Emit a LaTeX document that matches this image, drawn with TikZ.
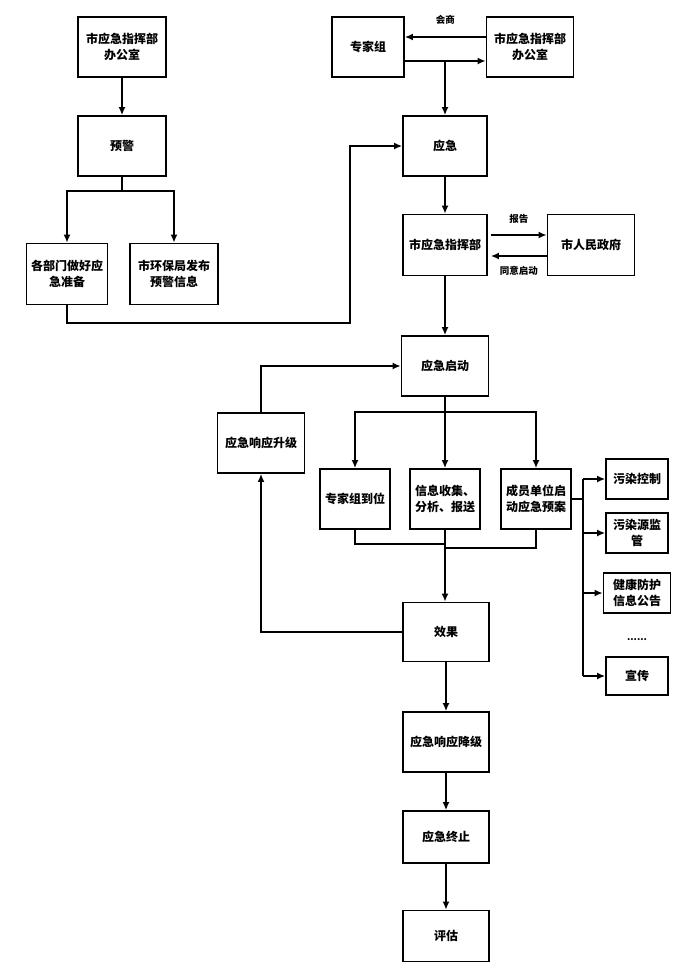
\documentclass[tikz,border=0pt]{standalone}
\usepackage{fontspec}
\setmainfont{Noto Sans CJK SC}
\usetikzlibrary{arrows.meta,positioning}
\tikzstyle{box} = [rectangle, draw, line width=1.7pt, minimum width=86pt, minimum height=60pt, inner sep=2pt, align=center, font=\bfseries\fontsize{12}{16}\selectfont]
\tikzstyle{small} = [box, minimum width=62pt, minimum height=40pt]
\tikzstyle{lbl} = [font=\bfseries\fontsize{9.5}{11}\selectfont]
\tikzstyle{arrow} = [line width=1.7pt,->,>={Latex[length=8pt,width=7pt]}]
\tikzstyle{line} = [line width=1.7pt]

\begin{document}
\begin{tikzpicture}[x=1pt, y=-1pt]
    \useasboundingbox (0,0) rectangle (700,970);

    % Warning branch
    \node[box, minimum width=88pt] (office1) at (122,47) {市应急指挥部\\办公室};
    \node[box, minimum width=88pt] (yujing) at (122,146) {预警};
    \node[box, minimum width=81pt, minimum height=61pt] (gebumen) at (67,274) {各部门做好应\\急准备};
    \node[box, minimum width=88pt, minimum height=61pt] (huanbao) at (174,274) {市环保局发布\\预警信息};

    % Command branch
    \node[box, minimum width=72pt] (zhuanjia) at (368,47) {专家组};
    \node[box, minimum width=87pt] (office2) at (530,47) {市应急指挥部\\办公室};
    \node[box, minimum width=84pt] (yingji) at (445,146) {应急};
    \node[box, minimum width=84pt, minimum height=61pt] (zhihuibu) at (445,245) {市应急指挥部};
    \node[box, minimum width=87pt, minimum height=61pt] (zhengfu) at (591,245) {市人民政府};

    % Response
    \node[box, minimum width=87pt] (qidong) at (445,366) {应急启动};
    \node[box, minimum width=87pt] (shengji) at (261,443) {应急响应升级};
    \node[box, minimum width=70pt] (daowei) at (355,499) {专家组到位};
    \node[box, minimum width=70pt] (xinxi) at (445,499) {信息收集、\\分析、报送};
    \node[box, minimum width=70pt] (chengyuan) at (536,499) {成员单位启\\动应急预案};
    \node[box, minimum height=59pt] (xiaoguo) at (446,632) {效果};
    \node[box] (jiangji) at (446,742) {应急响应降级};
    \node[box, minimum height=52pt] (zhongzhi) at (446,837) {应急终止};
    \node[box, minimum height=51pt] (pinggu) at (446,936) {评估};

    % Measures
    \node[small] (kongzhi) at (637,479) {污染控制};
    \node[small] (jianguan) at (637,533) {污染源监\\管};
    \node[small, minimum width=67pt] (gonggao) at (637,593) {健康防护\\信息公告};
    \node[lbl] (dots) at (637,640) {......};
    \node[small, minimum height=38pt] (xuanchuan) at (637,676) {宣传};
    \coordinate (bus) at (583,499);
    \coordinate (back) at (350,323);
    \coordinate (huishang) at ([yshift=-14pt]zhuanjia.east);

    % Arrows
    \draw[arrow] (office1) -- (yujing);
    \draw[arrow] (yujing.south) -- ++(0,14) -| (gebumen.north);
    \draw[arrow] (yujing.south) -- ++(0,14) -| (huanbao.north);
    \draw[arrow] (gebumen.south) |- (back) |- (yingji.west);

    \draw[arrow] ([yshift=10pt]office2.west) -- node[lbl, above=8pt] {会商} ([yshift=10pt]zhuanjia.east);
    \draw[arrow] (huishang) -- ([yshift=-14pt]office2.west);
    \draw[arrow] (yingji.north |- huishang) -- (yingji.north);
    \draw[arrow] (yingji) -- (zhihuibu);
    \draw[arrow] ([yshift=10pt]zhihuibu.east) ++(3,0) -- node[lbl, above=7pt] {报告} ([yshift=10pt]zhengfu.west);
    \draw[arrow] ([yshift=-11pt]zhengfu.west) -- node[lbl, below=6pt] {同意启动} ([yshift=-11pt,xshift=3pt]zhihuibu.east);
    \draw[arrow] (zhihuibu) -- (qidong);

    \draw[arrow] (shengji.north) |- (qidong.west);
    \draw[arrow] (qidong.south) -- ++(0,15) -| (daowei.north);
    \draw[arrow] (qidong.south) -- ++(0,15) -| (chengyuan.north);
    \draw[arrow] (qidong) -- (xinxi);
    \draw[line] (daowei.south) -- ++(0,14) -| (xinxi.south);
    \draw[line] (chengyuan.south) -- ++(0,18) -| (xinxi.south);
    \draw[arrow] (xinxi.south) -- (xinxi.south |- xiaoguo.north);
    \draw[arrow] (xiaoguo.west) -| (shengji.south);
    \draw[arrow] (xiaoguo) -- (jiangji);
    \draw[arrow] (jiangji) -- (zhongzhi);
    \draw[arrow] (zhongzhi) -- (pinggu);

    \draw[line] (chengyuan.east) -- (bus);
    \draw[line] (bus |- kongzhi.west) -- (bus |- xuanchuan.west);
    \foreach \n in {kongzhi, jianguan, gonggao, xuanchuan}
        \draw[arrow] (bus |- \n.west) -- (\n.west);
\end{tikzpicture}
\end{document}
